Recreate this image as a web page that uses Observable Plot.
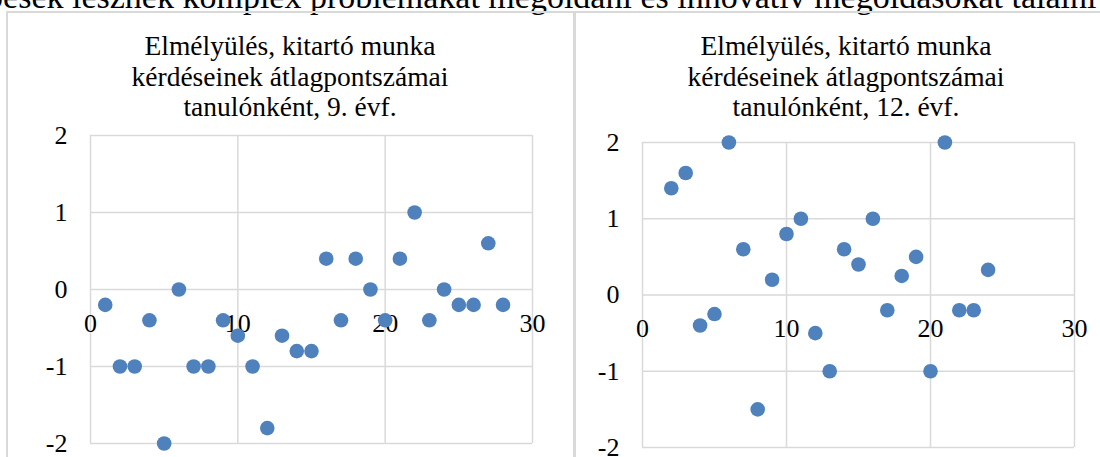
<!DOCTYPE html>
<html>
<head>
<meta charset="utf-8">
<script src="https://cdn.jsdelivr.net/npm/d3@7"></script>
<script src="https://cdn.jsdelivr.net/npm/@observablehq/plot@0.6"></script>
<style>
  html, body { margin: 0; padding: 0; background: #fff; }
  #wrap { position: relative; width: 1100px; height: 457px; overflow: hidden; font-family: "Liberation Serif", "DejaVu Serif", serif; }
  .abs { position: absolute; }
  #headline { position: absolute; white-space: nowrap; font-size: 34px; color: #000; font-family: "Liberation Serif", serif; }
</style>
</head>
<body>
<div id="wrap"></div>
<script>
// ---- data ----
const headline = "képesek lesznek komplex problémákat megoldani és innovatív megoldásokat találni";
const title9 = ["Elmélyülés, kitartó munka", "kérdéseinek átlagpontszámai", "tanulónként, 9. évf."];
const title12 = ["Elmélyülés, kitartó munka", "kérdéseinek átlagpontszámai", "tanulónként, 12. évf."];
const students9 = [1, 2, 3, 4, 5, 6, 7, 8, 9, 10, 11, 12, 13, 14, 15, 16, 17, 18, 19, 20, 21, 22, 23, 24, 25, 26, 27, 28];
const scores9 = [-0.2, -1, -1, -0.4, -2, 0, -1, -1, -0.4, -0.6, -1, -1.8, -0.6, -0.8, -0.8, 0.4, -0.4, 0.4, 0, -0.4, 0.4, 1, -0.4, 0, -0.2, -0.2, 0.6, -0.2];
const students12 = [2, 3, 4, 5, 6, 7, 8, 9, 10, 11, 12, 13, 14, 15, 16, 17, 18, 19, 20, 21, 22, 23, 24];
const scores12 = [1.4, 1.6, -0.4, -0.25, 2, 0.6, -1.5, 0.2, 0.8, 1, -0.5, -1, 0.6, 0.4, 1, -0.2, 0.25, 0.5, -1, 2, -0.2, -0.2, 0.33];
const xTicks = [0, 10, 20, 30];
const yTicks = [-2, -1, 0, 1, 2];

// ---- layout ----
const wrap = document.getElementById("wrap");
const headEl = document.createElement("div");
headEl.id = "headline";
headEl.textContent = headline;
headEl.style.left = "-46px";
headEl.style.top = "-22px";
wrap.appendChild(headEl);

function line(css) {
  const d = document.createElement("div");
  d.className = "abs";
  Object.assign(d.style, css);
  wrap.appendChild(d);
}
line({left: "6px", top: "11px", width: "1094px", height: "2px", background: "#d9d9d9"});
line({left: "6px", top: "11px", width: "2px", height: "446px", background: "#d9d9d9"});
line({left: "573px", top: "11px", width: "3px", height: "446px", background: "#d9d9d9"});

function panel(xs, ys, titleLines, opts) {
  const data = xs.map((x, i) => ({x, y: ys[i]}));
  const chart = Plot.plot({
    width: opts.width,
    height: 457,
    marginLeft: opts.ml,
    marginRight: opts.mr,
    marginTop: opts.mt,
    marginBottom: opts.mb,
    style: {fontFamily: "Liberation Serif", fontSize: "26px", color: "#000", background: "transparent", overflow: "visible"},
    x: {domain: [0, 30], axis: null},
    y: {domain: [-2, 2], axis: null},
    marks: [
      Plot.gridX(xTicks, {stroke: "#d9d9d9", strokeOpacity: 1, strokeWidth: 1.5}),
      Plot.gridY(yTicks, {stroke: "#d9d9d9", strokeOpacity: 1, strokeWidth: 1.5}),
      Plot.text(yTicks, {x: () => 0, y: d => d, dx: -23, textAnchor: "end", text: d => String(d), fontSize: 26, fill: "#000"}),
      Plot.text(xTicks, {x: d => d, y: () => 0, dy: 34, text: d => String(d), fontSize: 26, fill: "#000"}),
      Plot.dot(data, {x: "x", y: "y", r: 7.3, fill: "#4f81bd", stroke: "none"})
    ]
  });
  chart.style.position = "absolute";
  chart.style.left = opts.left + "px";
  chart.style.top = "0px";
  wrap.appendChild(chart);
  const t = document.createElement("div");
  Object.assign(t.style, {
    position: "absolute", left: (opts.tcx - 230) + "px", width: "460px", top: opts.tt + "px",
    textAlign: "center", fontFamily: "'Liberation Serif', serif", fontSize: "27.5px", lineHeight: "30.5px",
    color: "#000", whiteSpace: "nowrap"
  });
  for (const s of titleLines) {
    const d = document.createElement("div");
    d.textContent = s;
    t.appendChild(d);
  }
  wrap.appendChild(t);
}

panel(students9, scores9, title9, {left: 0, width: 573, ml: 90, mr: 41, mt: 135, mb: 14, tcx: 290, tt: 31});
panel(students12, scores12, title12, {left: 576, width: 524, ml: 66, mr: 26, mt: 142, mb: 10, tcx: 846, tt: 31});
</script>
</body>
</html>
